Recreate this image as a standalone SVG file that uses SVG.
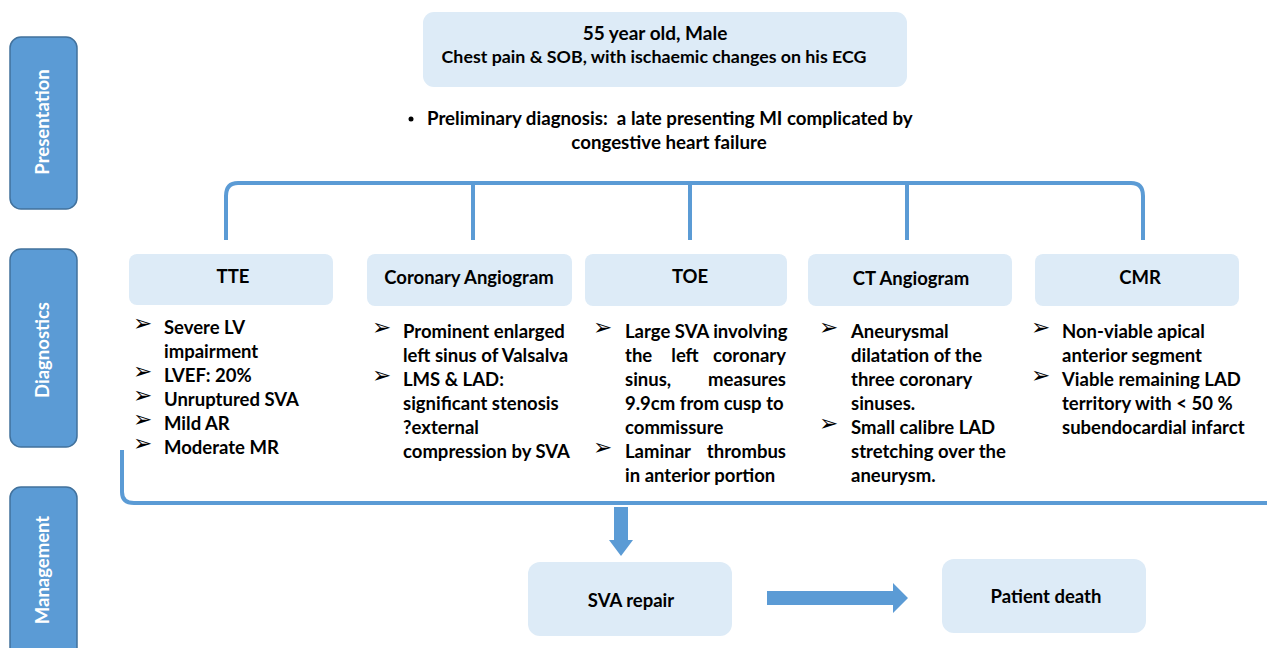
<svg xmlns="http://www.w3.org/2000/svg" width="1267" height="648" viewBox="0 0 1267 648">
<style>
.side{fill:#5B9BD5;stroke:#41719C;stroke-width:1.5}
.sidet{fill:#fff;font-family:Lato,"Liberation Sans",sans-serif;font-weight:bold;font-size:18.5px;text-anchor:middle}
.box{fill:#DDEBF7}
.t{font-family:Lato,"Liberation Sans",sans-serif;font-weight:bold;font-size:18.5px;fill:#000;white-space:pre}
.h{font-size:17.8px}
.h1{font-size:19px}
.p{font-size:18.7px}
.c{text-anchor:middle}
.e{text-anchor:end}
.ar{font-family:"DejaVu Sans",sans-serif;font-size:23px;fill:#000}
.ln{fill:none;stroke:#5B9BD5;stroke-width:4}
.fat{fill:#5B9BD5}
</style>
<rect width="1267" height="648" fill="#fff"/>
<g id="presentation"><rect class="side" x="10" y="37" width="67" height="172" rx="11"/><text class="sidet" transform="translate(49,122) rotate(-90)">Presentation</text></g>
<g id="diagnostics"><rect class="side" x="10" y="249" width="67" height="198" rx="11"/><text class="sidet" transform="translate(49,350) rotate(-90)">Diagnostics</text></g>
<g id="management"><rect class="side" x="10" y="487" width="67" height="180" rx="11"/><text class="sidet" transform="translate(49,570) rotate(-90)">Management</text></g>

<g id="patient"><rect class="box" x="423" y="12" width="484" height="75" rx="11"/>
<text class="t h1 c" x="655" y="40">55 year old, Male</text>
<text class="t h c" x="654" y="63">Chest pain &amp; SOB, with ischaemic changes on his ECG</text></g>

<g id="prelim">
<circle cx="411" cy="119" r="2.5" fill="#000"/>
<text class="t p" x="427" y="125">Preliminary diagnosis:  a late presenting MI complicated by</text>
<text class="t p c" x="669" y="149">congestive heart failure</text></g>

<g id="connectors">
<path class="ln" d="M226,240 V196 Q226,183 238,183 H1131 Q1143,183 1143,196 V240"/>
<path class="ln" d="M473,183 V240 M690,183 V240 M907,183 V240"/>
<path class="ln" d="M122,450 V492 Q122,503 134,503 H1267"/>
<path class="fat" d="M614,507 H628 V540 H633 L621,556 L609,540 H614 Z"/>
<path class="fat" d="M767,591 H893 V583 L908,598 L893,613 V605 H767 Z"/>
</g>

<g id="tte"><rect class="box" x="129" y="254" width="204" height="51" rx="8"/><text class="t c" x="233" y="283">TTE</text>
<text class="ar" x="133" y="331">➢</text><text class="t" x="164" y="334">Severe LV</text>
<text class="t" x="164" y="358">impairment</text>
<text class="ar" x="133" y="379">➢</text><text class="t" x="164" y="382">LVEF: 20%</text>
<text class="ar" x="133" y="403">➢</text><text class="t" x="164" y="406">Unruptured SVA</text>
<text class="ar" x="133" y="427">➢</text><text class="t" x="164" y="430">Mild AR</text>
<text class="ar" x="133" y="451">➢</text><text class="t" x="164" y="454">Moderate MR</text></g>

<g id="coronary"><rect class="box" x="367" y="254" width="205" height="52" rx="8"/><text class="t c" x="469" y="284">Coronary Angiogram</text>
<text class="ar" x="372" y="335">➢</text><text class="t" x="403" y="338">Prominent enlarged</text>
<text class="t" x="403" y="362">left sinus of Valsalva</text>
<text class="ar" x="372" y="383">➢</text><text class="t" x="403" y="386">LMS &amp; LAD:</text>
<text class="t" x="403" y="410">significant stenosis</text>
<text class="t" x="403" y="434">?external</text>
<text class="t" x="403" y="458">compression by SVA</text></g>

<g id="toe"><rect class="box" x="585" y="254" width="202" height="52" rx="8"/><text class="t c" x="690" y="283">TOE</text>
<text class="ar" x="593" y="335">➢</text><text class="t" x="625" y="338">Large SVA involving</text>
<text class="t" x="625" y="362">the</text><text class="t c" x="685" y="362">left</text><text class="t e" x="786" y="362">coronary</text>
<text class="t" x="625" y="386">sinus,</text><text class="t e" x="786" y="386">measures</text>
<text class="t" x="625" y="410">9.9cm from cusp to</text>
<text class="t" x="625" y="434">commissure</text>
<text class="ar" x="593" y="455">➢</text><text class="t" x="625" y="458">Laminar</text><text class="t e" x="786" y="458">thrombus</text>
<text class="t" x="625" y="482">in anterior portion</text></g>

<g id="ct"><rect class="box" x="808" y="254" width="204" height="52" rx="8"/><text class="t c" x="911" y="285">CT Angiogram</text>
<text class="ar" x="819" y="335">➢</text><text class="t" x="851" y="338">Aneurysmal</text>
<text class="t" x="851" y="362">dilatation of the</text>
<text class="t" x="851" y="386">three coronary</text>
<text class="t" x="851" y="410">sinuses.</text>
<text class="ar" x="819" y="431">➢</text><text class="t" x="851" y="434">Small calibre LAD</text>
<text class="t" x="851" y="458">stretching over the</text>
<text class="t" x="851" y="482">aneurysm.</text></g>

<g id="cmr"><rect class="box" x="1035" y="254" width="204" height="52" rx="8"/><text class="t c" x="1140" y="284">CMR</text>
<text class="ar" x="1031" y="335">➢</text><text class="t" x="1062" y="338">Non-viable apical</text>
<text class="t" x="1062" y="362">anterior segment</text>
<text class="ar" x="1031" y="383">➢</text><text class="t" x="1062" y="386">Viable remaining LAD</text>
<text class="t" x="1062" y="410">territory with &lt; 50 %</text>
<text class="t" x="1062" y="434">subendocardial infarct</text></g>

<g id="sva"><rect class="box" x="528" y="562" width="204" height="74" rx="12"/><text class="t c" x="631" y="607">SVA repair</text></g>
<g id="death"><rect class="box" x="942" y="559" width="204" height="74" rx="12"/><text class="t c" x="1046" y="603">Patient death</text></g>
</svg>
